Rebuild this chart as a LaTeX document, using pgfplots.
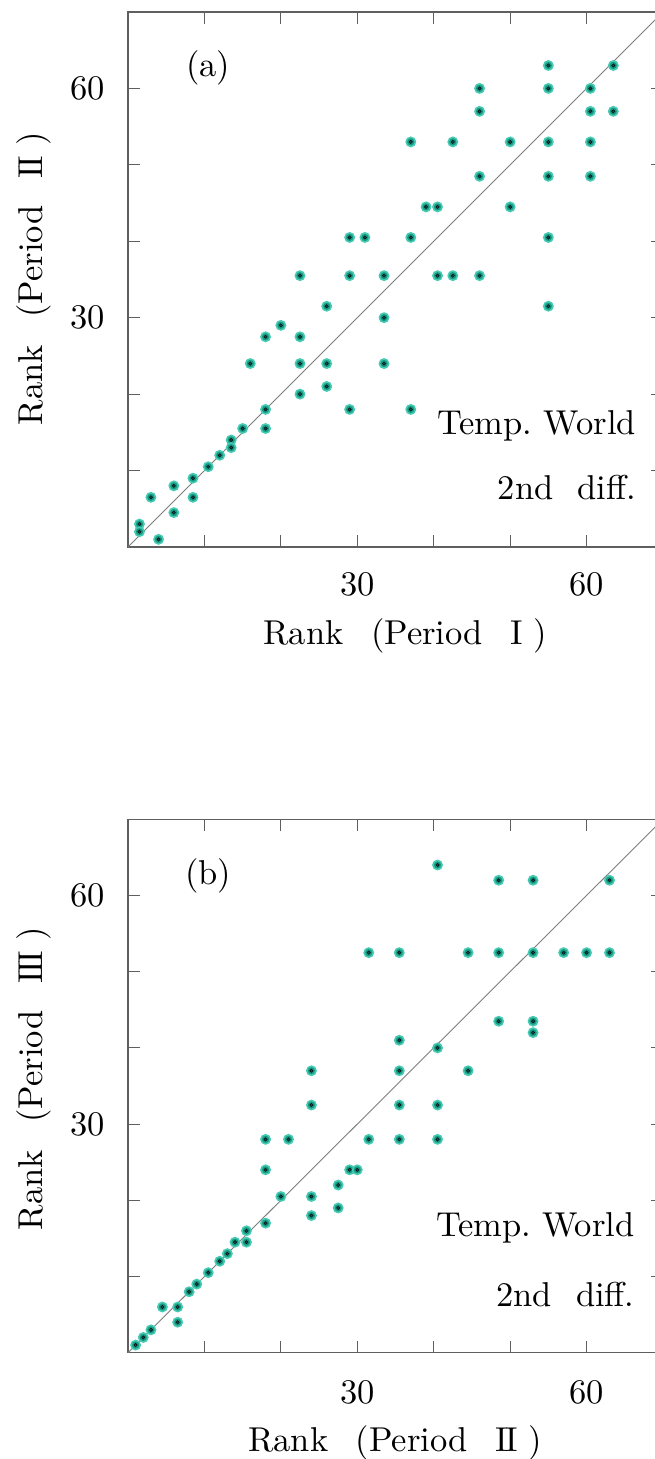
\documentclass[border=0pt]{standalone}
\usepackage{fontspec}
\setmainfont{lmroman10-regular.otf}
\usepackage{pgfplots}
\usepackage{pgfplotstable}
\pgfplotsset{compat=1.18}

\definecolor{ringteal}{RGB}{70,202,178}
\definecolor{bodyteal}{RGB}{22,152,132}
\definecolor{coreteal}{RGB}{10,80,70}
\definecolor{axisgray}{RGB}{95,95,95}
\definecolor{diaggray}{RGB}{125,125,125}

\newcommand{\bigfont}{\fontsize{34.5}{41}\selectfont}
\newcommand{\rI}{I}
\newcommand{\rII}{I\kern-0.07em I}
\newcommand{\rIII}{I\kern-0.07em I\kern-0.07em I}
\newcommand{\rankof}[1]{Rank\hspace{0.8em}(Period\hspace{0.8em}#1\hspace{0.3em})}

% Period I -> Period II ranks
\pgfplotstableread{
x y
55 63
63.5 63
46 60
55 60
60.5 60
46 57
60.5 57
63.5 57
37 53
42.5 53
50 53
55 53
60.5 53
46 48.5
55 48.5
60.5 48.5
39 44.5
40.5 44.5
50 44.5
29 40.5
31 40.5
37 40.5
55 40.5
22.5 35.5
29 35.5
33.5 35.5
40.5 35.5
42.5 35.5
46 35.5
55 31.5
26 31.5
33.5 30
20 29
18 27.5
22.5 27.5
16 24
22.5 24
26 24
33.5 24
26 21
22.5 20
29 18
37 18
18 18
15 15.5
18 15.5
13.5 14
13.5 13
12 12
10.5 10.5
8.5 9
6 8
3 6.5
8.5 6.5
6 4.5
1.5 3
1.5 2
4 1
}\rankA

% Period II -> Period III ranks
\pgfplotstableread{
x y
40.5 64
48.5 62
53 62
63 62
31.5 52.5
35.5 52.5
44.5 52.5
48.5 52.5
53 52.5
57 52.5
60 52.5
63 52.5
48.5 43.5
53 43.5
53 42
35.5 41
40.5 40
24 37
35.5 37
44.5 37
24 32.5
35.5 32.5
40.5 32.5
18 28
21 28
31.5 28
35.5 28
40.5 28
18 24
29 24
30 24
27.5 22
20 20.5
24 20.5
27.5 19
24 18
18 17
15.5 16
14 14.5
15.5 14.5
13 13
12 12
10.5 10.5
9 9
8 8
4.5 6
6.5 6
6.5 4
3 3
2 2
1 1
}\rankB

\tikzset{boxtext/.style={font=\bigfont, inner sep=0pt}}

\pgfplotsset{
  rankaxis/.style={
    anchor=south west,
    scale only axis,
    width=535pt,
    xmin=0, xmax=70, ymin=0, ymax=70,
    xtick={10,20,...,60}, ytick={10,20,...,60},
    xticklabels={,,30,,,60}, yticklabels={,,30,,,60},
    tick align=inside,
    major tick length=12pt,
    axis line style={axisgray, line width=1.3pt},
    tick style={axisgray, line width=1.2pt},
    tick label style={font=\bigfont, inner sep=0pt},
    label style={font=\bigfont},
    yticklabel style={xshift=-23pt},
    clip=false,
  },
  ringdot/.style={only marks, mark=*, mark size=4.6pt,
    mark options={fill=bodyteal, draw=ringteal, line width=1.6pt}},
  coredot/.style={only marks, mark=*, mark size=1.7pt,
    mark options={fill=coreteal, draw=none}},
}

\begin{document}
\begin{tikzpicture}
\useasboundingbox (0,0) rectangle (655pt,1459pt);
\clip (0,0) rectangle (655pt,1459pt);

% (a) Period I vs Period II
\begin{axis}[rankaxis,
  at={(128pt,912pt)}, height=535pt,
  xticklabel style={yshift=-25.5pt},
  xlabel={\rankof{\rI}},
  ylabel={\rankof{\rII}},
  xlabel style={at={(rel axis cs:0.518,-0.183)}, anchor=base},
  ylabel style={at={(rel axis cs:-0.1607,0.502)}, anchor=base},
]
\addplot[diaggray, line width=0.9pt, no marks] coordinates {(0,0) (70,70)};
\addplot[ringdot] table {\rankA};
\addplot[coredot] table {\rankA};
\node[boxtext, anchor=center] at (axis cs:10.5,62.7) {(a)};
\node[boxtext, anchor=base east] at (axis cs:66.5,14.7) {Temp.\ World};
\node[boxtext, anchor=base east] at (axis cs:66.5,6.15) {2nd\hspace{0.7em}diff.};
\end{axis}

% (b) Period II vs Period III
\begin{axis}[rankaxis,
  at={(128pt,106.3pt)}, height=533.4pt,
  xticklabel style={yshift=-28pt},
  xlabel={\rankof{\rII}},
  ylabel={\rankof{\rIII}},
  xlabel style={at={(rel axis cs:0.499,-0.186)}, anchor=base},
  ylabel style={at={(rel axis cs:-0.1607,0.514)}, anchor=base},
]
\addplot[diaggray, line width=0.9pt, no marks] coordinates {(0,0) (70,70)};
\addplot[ringdot] table {\rankB};
\addplot[coredot] table {\rankB};
\node[boxtext, anchor=center] at (axis cs:10.5,62.6) {(b)};
\node[boxtext, anchor=base east] at (axis cs:66.3,15.2) {Temp.\ World};
\node[boxtext, anchor=base east] at (axis cs:66.3,6.1) {2nd\hspace{0.7em}diff.};
\end{axis}
\end{tikzpicture}
\end{document}
